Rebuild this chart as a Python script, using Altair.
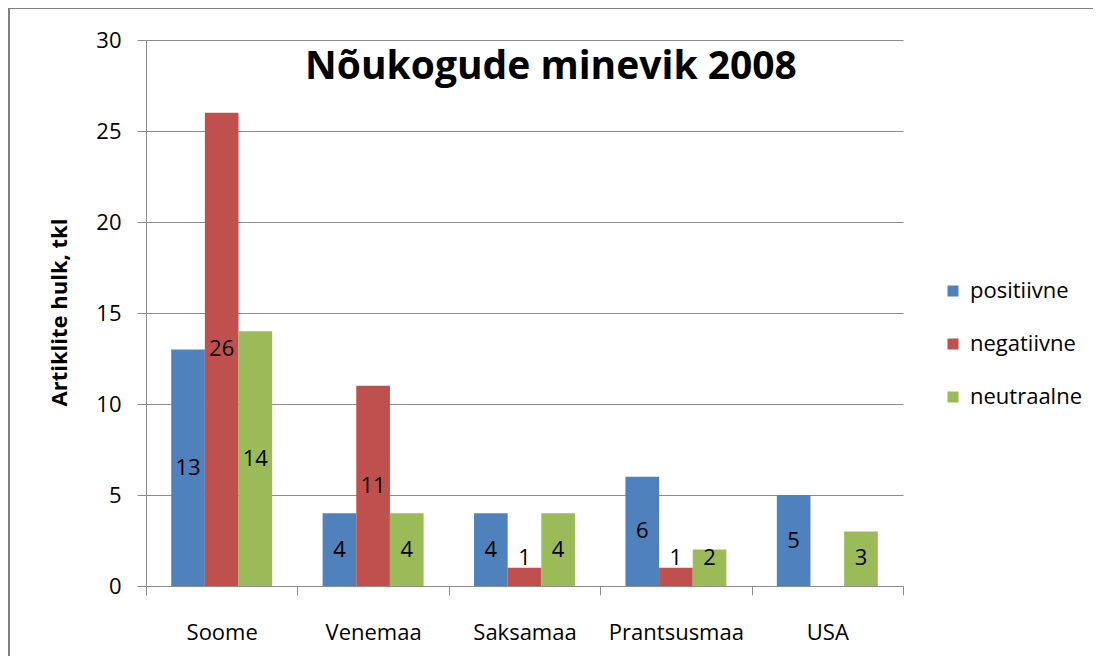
import altair as alt
import pandas as pd

countries = ["Soome", "Venemaa", "Saksamaa", "Prantsusmaa", "USA"]
series = ["positiivne", "negatiivne", "neutraalne"]
positiivne = [13, 4, 4, 6, 5]
negatiivne = [26, 11, 1, 1, None]
neutraalne = [14, 4, 4, 2, 3]
colors = ["#4F81BD", "#C0504D", "#9BBB59"]
y_ticks = [0, 5, 10, 15, 20, 25, 30]
title_text = "Nõukogude minevik 2008"
y_title = "Artiklite hulk, tkl"

rows = []
for s, vals in zip(series, [positiivne, negatiivne, neutraalne]):
    for c, v in zip(countries, vals):
        if v is not None:
            rows.append({"riik": c, "hinnang": s, "value": v})
df = pd.DataFrame(rows)

FONT = "Open Sans"
GRID = "#8c8c8c"

x_enc = alt.X(
    "riik:N", sort=countries, title=None,
    scale=alt.Scale(paddingInner=0, paddingOuter=0),
    axis=alt.Axis(tickBand="extent", tickSize=9, tickColor=GRID, domainColor=GRID,
                  labelFont=FONT, labelFontSize=22, labelColor="#000000",
                  labelPadding=27, labelAngle=0, grid=False),
)
xoff = alt.XOffset("hinnang:N", sort=series, scale=alt.Scale(paddingInner=0, paddingOuter=0.75))

y_axis = alt.Axis(values=y_ticks, grid=True, gridColor=GRID, domainColor=GRID, tickColor=GRID,
                  tickSize=9, labelPadding=16, labelFont=FONT, labelFontSize=22, labelColor="#000000",
                  titleFont=FONT, titleFontSize=22, titleFontWeight="bold", titleColor="#000000",
                  titleAngle=270, titleX=-80, titleY=272, titleAlign="center",
                  titleBaseline="alphabetic", format="d")
y_scale = alt.Scale(domain=[0, 30], nice=False)

base = alt.Chart(df)

bars = base.mark_bar().encode(
    x=x_enc, xOffset=xoff,
    y=alt.Y("value:Q", title=y_title, scale=y_scale, axis=y_axis),
    color=alt.Color("hinnang:N", sort=series,
                    scale=alt.Scale(domain=series, range=colors),
                    legend=alt.Legend(title=None, orient="none", legendX=796, legendY=240,
                                      padding=0,
                                      symbolType="square", symbolSize=121, symbolStrokeWidth=0,
                                      labelFont=FONT, labelFontSize=22, labelColor="#000000",
                                      labelOffset=6, rowPadding=31)),
)

labels = base.transform_calculate(
    mid="max(datum.value / 2, 1.55)"
).mark_text(baseline="middle", font=FONT, fontSize=22, color="#000000").encode(
    x=x_enc, xOffset=xoff,
    y=alt.Y("mid:Q", title=y_title, scale=y_scale, axis=y_axis),
    text=alt.Text("value:Q", format="d"),
)

title = alt.Chart(pd.DataFrame({"t": [title_text]})).mark_text(
    font=FONT, fontSize=39, fontWeight="bold", color="#000000",
    align="center", baseline="alphabetic"
).encode(x=alt.value(405), y=alt.value(39), text="t:N")

frame = alt.Chart(pd.DataFrame({"a": [0]})).mark_rect(
    fill="white", fillOpacity=0, stroke="#808080", strokeWidth=2
).encode(x=alt.value(-137), x2=alt.value(1100), y=alt.value(-32), y2=alt.value(800))

chart = alt.layer(frame, bars, labels, title).properties(
    width=757, height=546,
    autosize=alt.AutoSizeParams(type="none"),
    padding={"left": 138, "top": 32, "right": 190, "bottom": 70},
).configure_view(stroke="transparent")

chart.save("out.html", embed_options={"renderer": "svg", "actions": False})
